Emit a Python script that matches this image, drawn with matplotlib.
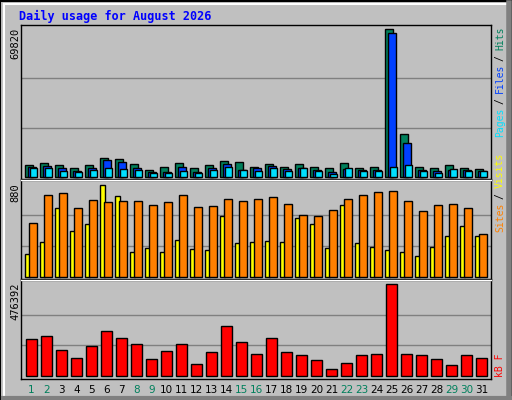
import matplotlib
matplotlib.use("Agg")
import matplotlib.pyplot as plt
from matplotlib.lines import Line2D
import numpy as np

days = list(range(1, 32))
weekend = [1, 2, 8, 9, 15, 16, 22, 23, 29, 30]
hits = [5661,6605,5661,4246,5661,8963,8492,6133,3302,4718,6605,4246,5661,7548,7076,4718,6133,4718,6133,4718,4246,6605,4246,4718,69820,20286,4718,4246,5661,4246,3774]
files = [4718,5189,4246,2831,4246,8020,7076,4246,2359,2359,4718,2359,4246,6133,3302,4246,5189,3774,4246,3302,2359,3774,3302,3302,67933,16040,3302,2831,3302,3302,2831]
pages = [4246,4246,2831,2359,3302,4246,3774,3302,1887,1887,2831,1887,3302,4718,3302,2831,4246,2831,4246,2831,1415,4246,2831,2831,4718,5661,2831,1887,3774,2831,2831]
visits = [223,337,661,442,509,880,775,242,280,242,356,270,261,585,328,337,347,337,566,509,280,690,328,290,261,242,204,290,394,490,394]
sites = [518,785,804,661,737,718,728,728,690,718,785,670,680,747,728,747,766,699,594,585,642,747,785,813,823,728,632,690,699,661,413]
kbytes = [189410,205060,132010,90270,152880,231150,194630,163320,85050,126800,163320,58960,121580,257240,173760,111140,194630,121580,105920,79830,32870,64180,105920,111140,476392,111140,105920,85050,53740,105920,90270]

W, H = 512, 400
BG = "#C0C0C0"
fig = plt.figure(figsize=(W/100, H/100), dpi=100, facecolor=BG)

def ax_px(x0, y0, x1, y1):
    a = fig.add_axes([x0/W, 1-y1/H, (x1-x0)/W, (y1-y0)/H])
    a.set_facecolor(BG)
    a.set_xlim(x0, x1)
    a.set_xticks([]); a.set_yticks([])
    for s in a.spines.values():
        s.set_color("black"); s.set_linewidth(1)
    return a

def setup_y(a, y0, base, y1, vmax, maxpx):
    sc = vmax / maxpx
    a.set_ylim(-(y1-base)*sc, (base-y0)*sc)
    for f in (1/3, 2/3):
        a.axhline(vmax*f, color="#808080", lw=1, zorder=0)

x = np.array(days)
start = 26.3 + 15*(x-1)

a1 = ax_px(21, 25, 491, 179)
setup_y(a1, 25, 177, 179, max(hits), 148)
kw = dict(align="edge", edgecolor="black", linewidth=1)
a1.bar(start-1.3, hits, 8, color="#00805C", **kw)
a1.bar(start+1.7, files, 8, color="#0040FF", **kw)
a1.bar(start+3.4, pages, 7.6, color="#00E0FF", **kw)

a2 = ax_px(21, 180, 491, 279)
setup_y(a2, 180, 277, 279, max(visits), 92.4)
a2.bar(start-1.0, visits, 4.7, color="#FFFF00", **kw)
a2.bar(start+3.0, sites, 7.4, color="#FF8000", **kw)

a3 = ax_px(21, 280, 491, 379)
setup_y(a3, 280, 375.7, 379, max(kbytes), 91.3)
a3.bar(start, kbytes, 10.4, color="#FF0000", **kw)

mono = "DejaVu Sans Mono"
fig.text(19/W, 1-16/H, "Daily usage for August 2026", color="#0000FF",
         fontsize=8.5, fontweight="bold", family=mono, va="center", ha="left")
for lbl, ytop in [(str(max(hits)), 28), (str(max(visits)), 183), (str(max(kbytes)), 283)]:
    fig.text(15/W, 1-ytop/H, lbl, rotation=90, fontsize=7.5, family=mono,
             va="top", ha="center", color="black")

def right_label(parts, ybot):
    cw = 5.45
    for txt, col, idx in parts:
        fig.text(500/W, 1-(ybot - cw*idx)/H, txt, rotation=90, fontsize=7, family=mono,
                 va="bottom", ha="center", color=col)

right_label([("Pages", "#00E0FF", 0), ("/", "black", 6), ("Files", "#0040FF", 8),
             ("/", "black", 14), ("Hits", "#00805C", 16)], 137)
right_label([("Sites", "#FF8000", 0), ("/", "black", 6), ("Visits", "#FFFF00", 8)], 232)
right_label([("kB F", "#FF0000", 0)], 377)

for d, s in zip(days, start):
    fig.text((s+5.2)/W, 1-390/H, str(d), fontsize=7.5, ha="center", va="center",
             color="#00805C" if d in weekend else "black")

def ln(xs, ys, c, lw=1):
    fig.add_artist(Line2D([v/W for v in xs], [1-v/H for v in ys], color=c, lw=lw,
                          transform=fig.transFigure))
ln([0, 512, 512, 0, 0], [0.5, 0.5, 399.5, 399.5, 0.5], "black", 1.5)
ln([4, 506], [4, 4], "white", 1.5)
ln([4, 4], [4, 396], "white", 1.5)
ln([508.5, 508.5], [3, 398], "#808080", 4)
ln([3, 510], [397.5, 397.5], "#808080", 3)
ln([21, 491], [179.5, 179.5], "white", 1)
ln([21, 491], [279.5, 279.5], "white", 1)

fig.savefig("out.png", dpi=100, facecolor=BG)
